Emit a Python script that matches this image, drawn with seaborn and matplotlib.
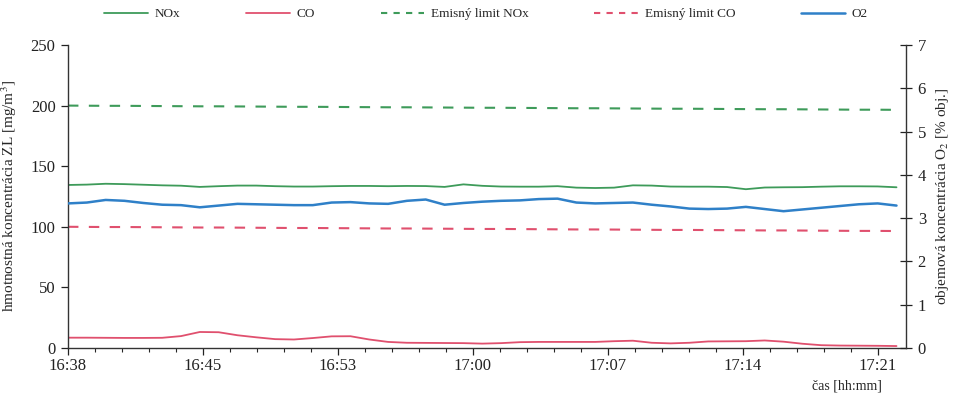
import numpy as np
import pandas as pd
import matplotlib
matplotlib.use("Agg")
import matplotlib.pyplot as plt
import seaborn as sns

# minutes since 16:38
minutes = list(range(45))
nox = [134.5, 134.8, 135.5, 135.2, 134.7, 134.2, 133.9, 132.9, 133.5, 134.0,
       134.0, 133.5, 133.2, 133.2, 133.5, 133.7, 133.7, 133.5, 133.7, 133.6,
       132.9, 135.0, 133.8, 133.2, 133.1, 133.1, 133.5, 132.3, 132.0, 132.3,
       134.2, 134.0, 133.2, 133.1, 133.1, 132.8, 131.0, 132.4, 132.6, 132.7,
       133.1, 133.4, 133.4, 133.3, 132.6]
co = [8.5, 8.5, 8.4, 8.3, 8.3, 8.4, 9.8, 13.2, 13.0, 10.5,
      8.8, 7.3, 7.0, 8.2, 9.6, 9.7, 7.0, 5.0, 4.3, 4.2,
      4.1, 4.0, 3.6, 4.0, 4.8, 5.0, 5.0, 5.0, 5.0, 5.6,
      6.0, 4.3, 3.8, 4.3, 5.4, 5.5, 5.6, 6.2, 5.2, 3.5,
      2.3, 2.0, 1.9, 1.8, 1.6]
o2 = [3.34, 3.36, 3.42, 3.40, 3.35, 3.31, 3.30, 3.25, 3.29, 3.33,
      3.32, 3.31, 3.30, 3.30, 3.36, 3.37, 3.34, 3.33, 3.40, 3.43,
      3.31, 3.35, 3.38, 3.40, 3.41, 3.44, 3.45, 3.36, 3.34, 3.35,
      3.36, 3.31, 3.27, 3.22, 3.21, 3.22, 3.26, 3.21, 3.16, 3.20,
      3.24, 3.28, 3.32, 3.34, 3.29]
nox_limit = [200.0, 199.9, 199.8, 199.8, 199.7, 199.6, 199.5, 199.4, 199.4, 199.3,
             199.2, 199.1, 199.0, 199.0, 198.9, 198.8, 198.7, 198.6, 198.6, 198.5,
             198.4, 198.3, 198.2, 198.2, 198.1, 198.0, 197.9, 197.8, 197.8, 197.7,
             197.6, 197.5, 197.4, 197.4, 197.3, 197.2, 197.1, 197.0, 197.0, 196.9,
             196.8, 196.7, 196.6, 196.6, 196.5]
co_limit = [100.0, 99.9, 99.8, 99.8, 99.7, 99.6, 99.5, 99.4, 99.4, 99.3,
            99.2, 99.1, 99.0, 99.0, 98.9, 98.8, 98.7, 98.6, 98.6, 98.5,
            98.4, 98.3, 98.2, 98.2, 98.1, 98.0, 97.9, 97.8, 97.8, 97.7,
            97.6, 97.5, 97.4, 97.4, 97.3, 97.2, 97.1, 97.0, 97.0, 96.9,
            96.8, 96.7, 96.6, 96.6, 96.5]
tick_labels = ["16:38", "16:45", "16:53", "17:00", "17:07", "17:14", "17:21"]

sns.set_theme(style="white")
plt.rcParams['font.family'] = ['Liberation Serif', 'DejaVu Serif']
plt.rcParams['mathtext.fontset'] = 'stix'

df = pd.DataFrame({"t": minutes, "NOx": nox, "CO": co, "O2": o2,
                   "NOxL": nox_limit, "COL": co_limit})

green = "#3e9b5a"
red = "#e0506e"
blue = "#2f80c8"

fig = plt.figure(figsize=(9.62, 3.94), dpi=100)
ax = fig.add_axes([0.0707, 0.1168, 0.871, 0.769])
ax2 = ax.twinx()

sns.lineplot(data=df, x="t", y="NOx", ax=ax, color=green, lw=1.3, label="NOx", legend=False)
sns.lineplot(data=df, x="t", y="CO", ax=ax, color=red, lw=1.3, label="CO", legend=False)
sns.lineplot(data=df, x="t", y="NOxL", ax=ax, color=green, lw=1.5, label="Emisný limit NOx",
             legend=False, linestyle=(0, (5, 5)))
sns.lineplot(data=df, x="t", y="COL", ax=ax, color=red, lw=1.5, label="Emisný limit CO",
             legend=False, linestyle=(0, (5, 5)))
sns.lineplot(data=df, x="t", y="O2", ax=ax2, color=blue, lw=1.8, label="O2", legend=False)

ax.set_xlim(0, 44.5)
ax.set_ylim(0, 250)
ax2.set_ylim(0, 7)
ax.set_yticks([0, 50, 100, 150, 200, 250])
ax2.set_yticks(range(0, 8))

minor = np.linspace(0, 43, 31)
ax.set_xticks(minor[::5])
ax.set_xticklabels(tick_labels)
ax.set_xticks(minor, minor=True)

for a in (ax, ax2):
    a.grid(False)
    a.spines['top'].set_visible(False)
    for s in a.spines.values():
        s.set_color("#333333")
        s.set_linewidth(1.0)
ax.spines['right'].set_visible(False)
ax2.spines['left'].set_visible(False)
ax2.spines['bottom'].set_visible(False)

ax.tick_params(axis='y', which='both', direction='out', length=5, width=0.9,
               left=True, labelsize=12, colors="#222222", pad=4)
ax.tick_params(axis='x', which='major', direction='out', length=5, width=0.9,
               bottom=True, labelsize=12, colors="#222222", pad=2)
ax.tick_params(axis='x', which='minor', direction='out', length=3, width=0.8, bottom=True)
ax2.tick_params(axis='y', direction='inout', length=9, width=0.9, right=True,
                labelsize=12, colors="#222222", pad=4)

ax.set_xlabel("")
ax.set_ylabel("hmotnostná koncentrácia ZL [mg/m$^3$]", fontsize=11, labelpad=8)
ax2.set_ylabel("objemová koncentrácia O$_2$ [% obj.]", fontsize=11, labelpad=6)
fig.text(0.88, 0.004, "čas [hh:mm]", ha="center", va="bottom", fontsize=10)

handles1, labels1 = ax.get_legend_handles_labels()
handles2, labels2 = ax2.get_legend_handles_labels()
leg = fig.legend(handles1 + handles2, labels1 + labels2, loc="upper center",
                 bbox_to_anchor=(0.505, 1.01), ncol=5, frameon=False, fontsize=9.5,
                 handlelength=3.3, columnspacing=5.0, handletextpad=0.5)
for i in (2, 3):
    leg.get_lines()[i].set_linestyle((0, (3, 3)))

fig.savefig("out.png", dpi=100)
